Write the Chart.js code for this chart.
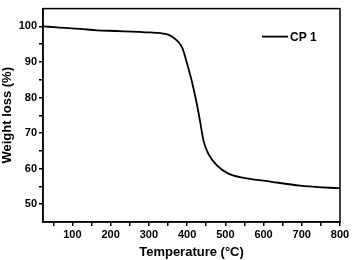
<!DOCTYPE html>
<html lang="en">
<head>
<meta charset="UTF-8">
<title>TGA CP 1</title>
<script src="https://cdn.jsdelivr.net/npm/chart.js"></script>
<style>
  html, body { margin: 0; padding: 0; background: #fff; }
  #wrap { width: 354px; height: 260px; }
</style>
</head>
<body>
<div id="wrap"><canvas id="tgaChart" width="354" height="260"></canvas></div>
<script>
    const seriesName = 'CP 1';
    const temperature = [25, 60, 120, 164, 216, 303, 330, 350, 364, 378, 388, 400, 413, 426, 434, 443, 456, 478, 508, 548, 609, 696, 760, 800];
    const weightLoss = [100.0, 99.7, 99.3, 98.9, 98.7, 98.3, 98.1, 97.7, 96.9, 95.5, 93.8, 89.5, 84.3, 77.9, 73.3, 67.8, 64.1, 60.9, 58.6, 57.4, 56.5, 55.2, 54.7, 54.5];
    const xTickLabels = [100, 200, 300, 400, 500, 600, 700, 800];
    const yTickLabels = [50, 60, 70, 80, 90, 100];

    const font = { family: '"Liberation Sans", Arial, sans-serif', weight: 'bold' };

    const points = temperature.map((t, i) => ({ x: t, y: weightLoss[i] }));

    // frame on top + right, plus legend inside the plot
    const framePlugin = {
        id: 'frame',
        afterDraw(chart) {
            const { ctx, chartArea: a } = chart;
            ctx.save();
            ctx.strokeStyle = '#000';
            ctx.lineWidth = 1.5;
            ctx.strokeRect(a.left, a.top, a.right - a.left, a.bottom - a.top);

            const lx = a.left + 219, ly = a.top + 28;
            ctx.lineWidth = 1.8;
            ctx.beginPath();
            ctx.moveTo(lx, ly);
            ctx.lineTo(lx + 26, ly);
            ctx.stroke();
            ctx.fillStyle = '#000';
            ctx.font = 'bold 12px "Liberation Sans", Arial, sans-serif';
            ctx.textBaseline = 'middle';
            ctx.fillText(seriesName, lx + 28, ly + 1);
            ctx.restore();
        }
    };

    new Chart(document.getElementById('tgaChart').getContext('2d'), {
        type: 'line',
        data: {
            datasets: [{
                label: seriesName,
                data: points,
                borderColor: '#000',
                borderWidth: 1.8,
                pointRadius: 0,
                fill: false,
                cubicInterpolationMode: 'monotone'
            }]
        },
        options: {
            responsive: false,
            animation: false,
            layout: { padding: { left: 0, right: 14, top: 5, bottom: 0 } },
            plugins: { legend: { display: false }, tooltip: { enabled: false } },
            scales: {
                x: {
                    type: 'linear',
                    min: 23,
                    max: 800,
                    afterBuildTicks(scale) {
                        const t = [];
                        for (let v = 50; v <= 800; v += 50) t.push({ value: v });
                        scale.ticks = t;
                    },
                    afterFit(scale) { scale.height = 38; },
                    grid: { drawOnChartArea: false, drawTicks: true, tickLength: 4, color: '#000', lineWidth: 1.5 },
                    border: { display: true, color: '#000', width: 1.5 },
                    ticks: {
                        color: '#000',
                        padding: 2,
                        maxRotation: 0,
                        autoSkip: false,
                        font: { ...font, size: 11 },
                        callback: v => xTickLabels.includes(v) ? String(v) : ''
                    },
                    title: {
                        display: true,
                        text: 'Temperature (°C)',
                        color: '#000',
                        padding: { top: 1, bottom: 0 },
                        font: { ...font, size: 13 }
                    }
                },
                y: {
                    min: 45,
                    max: 105,
                    afterBuildTicks(scale) {
                        const t = [];
                        for (let v = 50; v <= 100; v += 5) t.push({ value: v });
                        scale.ticks = t;
                    },
                    afterFit(scale) { scale.width = 43; },
                    grid: { drawOnChartArea: false, drawTicks: true, tickLength: 4, color: '#000', lineWidth: 1.5 },
                    border: { display: true, color: '#000', width: 1.5 },
                    ticks: {
                        color: '#000',
                        padding: 2,
                        autoSkip: false,
                        font: { ...font, size: 11 },
                        callback: v => yTickLabels.includes(v) ? String(v) : ''
                    },
                    title: {
                        display: true,
                        text: 'Weight loss (%)',
                        color: '#000',
                        padding: { top: 0, bottom: 2 },
                        font: { ...font, size: 13 }
                    }
                }
            }
        },
        plugins: [framePlugin]
    });
</script>
</body>
</html>
